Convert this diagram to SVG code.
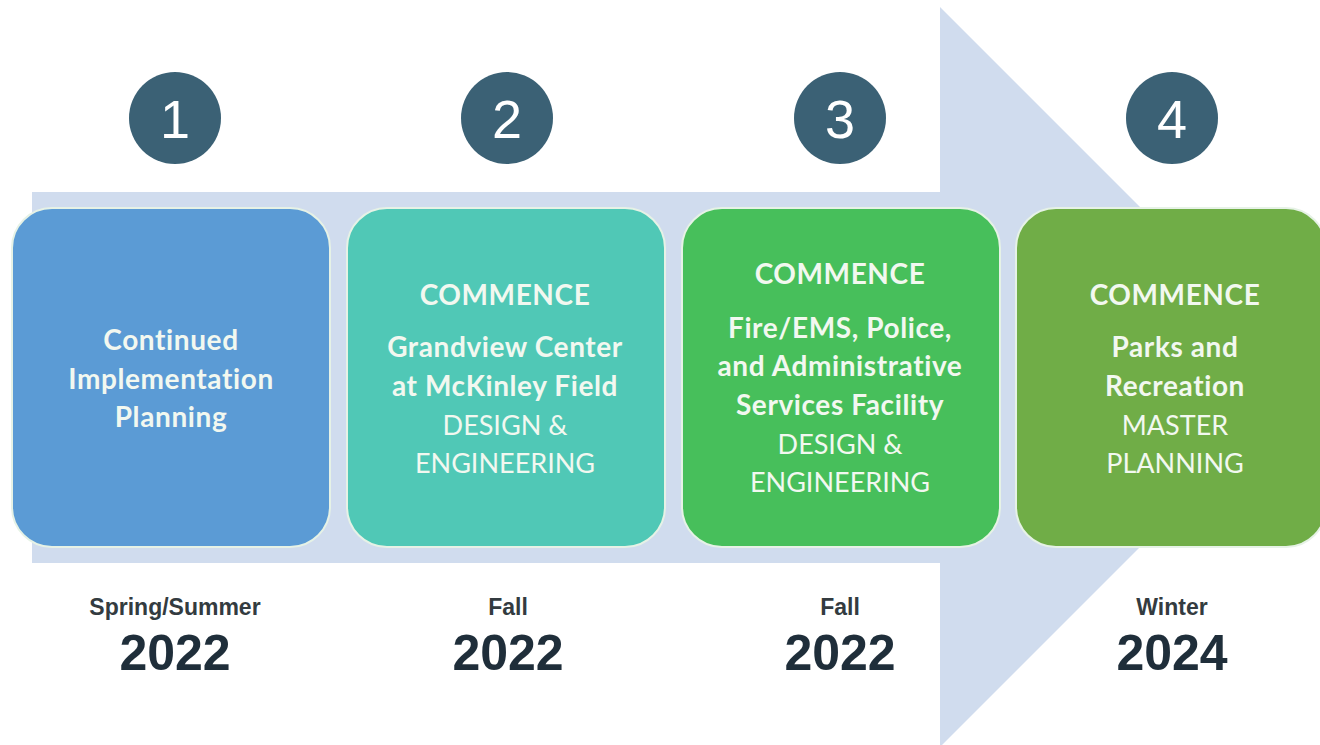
<svg xmlns="http://www.w3.org/2000/svg" width="1320" height="745" viewBox="0 0 1320 745">
<style>
.box{stroke:#E6F2E6;stroke-width:2}
.num{font-family:"Liberation Sans",Arial,sans-serif;font-size:54px;fill:#FFFFFF;text-anchor:middle}
.circ{fill:#3B6175}
.b{font-family:Lato,"Open Sans",sans-serif;font-weight:bold;font-size:28px;letter-spacing:0.6px;fill:#F2F8F0;text-anchor:middle}
.r{font-family:Lato,"Open Sans",sans-serif;font-size:27px;fill:#F2F8F0;text-anchor:middle}
.season{font-family:"Liberation Sans",Arial,sans-serif;font-weight:bold;font-size:23px;fill:#333B40;text-anchor:middle}
.year{font-family:"Liberation Sans",Arial,sans-serif;font-weight:bold;font-size:50px;fill:#1F2E3A;text-anchor:middle}
</style>
<rect width="1320" height="745" fill="#FFFFFF"/>
<g id="arrow">
<polygon points="32,192 940,192 940,7 1310,377 940,747 940,563 32,563" fill="#D0DCEE"/>
</g>
<g id="connectors"></g>
<g id="step1">
<circle class="circ" cx="175" cy="118" r="46"/>
<text class="num" x="175" y="138">1</text>
<rect class="box" x="12" y="208" width="318" height="339" rx="40" fill="#5B9BD5"/>
<text class="b" x="171" y="350">Continued</text>
<text class="b" x="171" y="389">Implementation</text>
<text class="b" x="171" y="427">Planning</text>
<text class="season" x="175" y="615">Spring/Summer</text>
<text class="year" x="175" y="670">2022</text>
</g>
<g id="step2">
<circle class="circ" cx="507" cy="118" r="46"/>
<text class="num" x="507" y="138">2</text>
<rect class="box" x="347" y="208" width="318" height="339" rx="40" fill="#50C8B6"/>
<text class="b" x="505" y="305">COMMENCE</text>
<text class="b" x="505" y="357">Grandview Center</text>
<text class="b" x="505" y="396">at McKinley Field</text>
<text class="r" x="505" y="435">DESIGN &amp;</text>
<text class="r" x="505" y="473">ENGINEERING</text>
<text class="season" x="508" y="615">Fall</text>
<text class="year" x="508" y="670">2022</text>
</g>
<g id="step3">
<circle class="circ" cx="840" cy="118" r="46"/>
<text class="num" x="840" y="138">3</text>
<rect class="box" x="682" y="208" width="318" height="339" rx="40" fill="#47BF5B"/>
<text class="b" x="840" y="284">COMMENCE</text>
<text class="b" x="840" y="338">Fire/EMS, Police,</text>
<text class="b" x="840" y="376">and Administrative</text>
<text class="b" x="840" y="415">Services Facility</text>
<text class="r" x="840" y="454">DESIGN &amp;</text>
<text class="r" x="840" y="492">ENGINEERING</text>
<text class="season" x="840" y="615">Fall</text>
<text class="year" x="840" y="670">2022</text>
</g>
<g id="step4">
<circle class="circ" cx="1172" cy="118" r="46"/>
<text class="num" x="1172" y="138">4</text>
<rect class="box" x="1016" y="208" width="310" height="339" rx="40" fill="#70AD47"/>
<text class="b" x="1175" y="305">COMMENCE</text>
<text class="b" x="1175" y="357">Parks and</text>
<text class="b" x="1175" y="396">Recreation</text>
<text class="r" x="1175" y="435">MASTER</text>
<text class="r" x="1175" y="473">PLANNING</text>
<text class="season" x="1172" y="615">Winter</text>
<text class="year" x="1172" y="670">2024</text>
</g>
</svg>
